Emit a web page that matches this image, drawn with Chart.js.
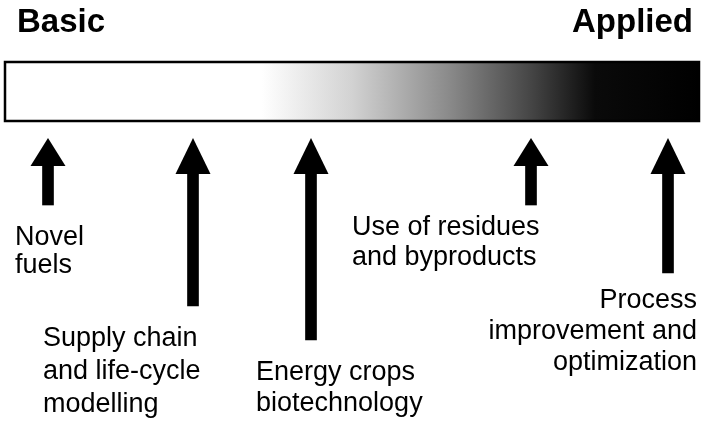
<!DOCTYPE html>
<html>
<head>
<meta charset="utf-8">
<script src="https://cdn.jsdelivr.net/npm/chart.js@4.4.1/dist/chart.umd.min.js"></script>
<style>
    html, body { margin: 0; padding: 0; background: #fff; }
    #wrap { width: 702px; height: 424px; }
</style>
</head>
<body>
<div id="wrap"><canvas id="researchChart"></canvas></div>
<script>
// data
const spectrumEnds = ['Basic', 'Applied'];
const categories = ['Novel fuels', 'Supply chain and life-cycle modelling', 'Energy crops biotechnology',
    'Use of residues and byproducts', 'Process improvement and optimization'];
const labelLines = [
    ['Novel', 'fuels'],
    ['Supply chain', 'and life-cycle', 'modelling'],
    ['Energy crops', 'biotechnology'],
    ['Use of residues', 'and byproducts'],
    ['Process', 'improvement and', 'optimization']
];
const arrowX = [48, 193, 311, 531, 668];       // where on the basic -> applied scale
const arrowTip = [138, 138, 138, 138, 138];
const arrowBase = [205, 306, 340, 205, 273];

// layout (not data)
const band = { x0: 5, x1: 699, top: 62, bottom: 121 };
const labelPos = [
    { x: 15, y: 245, gap: 28, align: 'left' },
    { x: 43, y: 346, gap: 33, align: 'left' },
    { x: 256, y: 380, gap: 31, align: 'left' },
    { x: 352, y: 235, gap: 30, align: 'left' },
    { x: 697, y: 308, gap: 31, align: 'right' }
];
const headW = 35;
function headDepth(i) {
    return (arrowBase[i] - arrowTip[i]) < 90 ? 28 : 36;
}

const spectrumPlugin = {
    id: 'spectrum',
    beforeDatasetsDraw(chart) {
        const ctx = chart.ctx;
        const xs = chart.scales.x, ys = chart.scales.y;
        const l = xs.getPixelForValue(band.x0), r = xs.getPixelForValue(band.x1);
        const t = ys.getPixelForValue(band.top), b = ys.getPixelForValue(band.bottom);
        ctx.save();
        const g = ctx.createLinearGradient(l, 0, r, 0);
        g.addColorStop(0, '#ffffff');
        g.addColorStop(0.37, '#ffffff');
        g.addColorStop(0.5, '#d2d2d2');
        g.addColorStop(0.64, '#8a8a8a');
        g.addColorStop(0.76, '#444444');
        g.addColorStop(0.85, '#0a0a0a');
        g.addColorStop(1, '#000000');
        ctx.fillStyle = g;
        ctx.fillRect(l, t, r - l, b - t);
        ctx.lineWidth = 2.5;
        ctx.strokeStyle = '#000';
        ctx.strokeRect(l, t, r - l, b - t);

        // Basic / Applied
        ctx.fillStyle = '#000';
        ctx.font = 'bold 33px "Liberation Sans", Arial, sans-serif';
        ctx.textBaseline = 'alphabetic';
        ctx.textAlign = 'left';
        ctx.fillText(spectrumEnds[0], xs.getPixelForValue(17), ys.getPixelForValue(32));
        ctx.textAlign = 'right';
        ctx.fillText(spectrumEnds[1], xs.getPixelForValue(693), ys.getPixelForValue(32));
        ctx.restore();
    }
};

const arrowPlugin = {
    id: 'arrowHeads',
    afterDatasetsDraw(chart) {
        const ctx = chart.ctx;
        const xs = chart.scales.x, ys = chart.scales.y;
        ctx.save();
        ctx.fillStyle = '#000';
        arrowX.forEach((x, i) => {
            const cx = xs.getPixelForValue(x);
            const tip = ys.getPixelForValue(arrowTip[i]);
            const base = ys.getPixelForValue(arrowTip[i] + headDepth(i));
            ctx.beginPath();
            ctx.moveTo(cx, tip);
            ctx.lineTo(cx + headW / 2, base);
            ctx.lineTo(cx - headW / 2, base);
            ctx.closePath();
            ctx.fill();
        });

        ctx.font = '27px "Liberation Sans", Arial, sans-serif';
        ctx.textBaseline = 'alphabetic';
        labelLines.forEach((lines, i) => {
            const p = labelPos[i];
            ctx.textAlign = p.align;
            lines.forEach((line, k) => {
                ctx.fillText(line, xs.getPixelForValue(p.x), ys.getPixelForValue(p.y + k * p.gap));
            });
        });
        ctx.restore();
    }
};

const ctx = document.getElementById('researchChart').getContext('2d');
new Chart(ctx, {
    type: 'bar',
    data: {
        labels: categories,
        datasets: [{
            label: 'Research areas',
            data: arrowX.map((x, i) => ({ x: x, y: [arrowBase[i], arrowTip[i] + headDepth(i) - 1] })),
            backgroundColor: '#000',
            borderWidth: 0,
            barThickness: 11,
            grouped: false
        }]
    },
    options: {
        responsive: true,
        maintainAspectRatio: false,
        animation: false,
        layout: { padding: 0 },
        scales: {
            x: { type: 'linear', min: 0, max: 702, offset: false, display: false },
            y: { type: 'linear', min: 0, max: 424, reverse: true, display: false }
        },
        plugins: {
            legend: { display: false },
            tooltip: { enabled: false }
        }
    },
    plugins: [spectrumPlugin, arrowPlugin]
});
</script>
</body>
</html>
